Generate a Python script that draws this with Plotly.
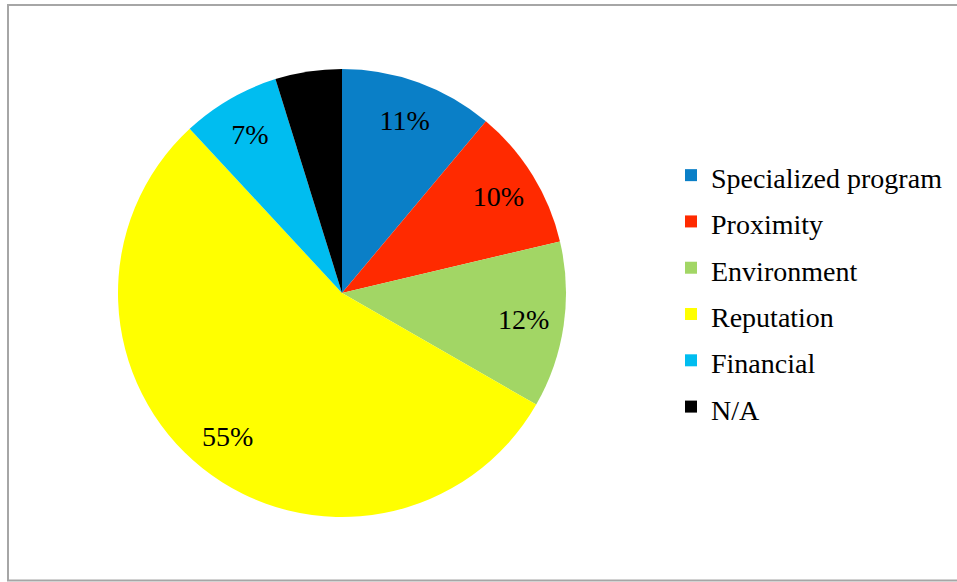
import plotly.graph_objects as go

categories = ["Specialized program", "Proximity", "Environment", "Reputation", "Financial", "N/A"]
shares = [11.1, 10.2, 12.0, 54.8, 7.1, 4.8]
colors = ["#0A7FC7", "#FF2A00", "#A2D665", "#FFFF00", "#00BDF0", "#000000"]
show_label = [True, True, True, True, True, False]

W, H = 957, 582
cx, cy, r = 342, 293, 224
dom = dict(x=[(cx - r) / W, (cx + r) / W], y=[(H - cy - r) / H, (H - cy + r) / H])

fig = go.Figure()
# coloured slices + legend
fig.add_trace(go.Pie(
    labels=[f'<span style="font-size:28px">{c}</span>' for c in categories],
    values=shares,
    sort=False,
    direction="clockwise",
    rotation=0,
    marker=dict(colors=colors, line=dict(width=0)),
    textinfo="none",
    hoverinfo="label+percent",
    domain=dom,
))
# transparent ring carrying the percentage labels (places them in the outer band)
fig.add_trace(go.Pie(
    labels=categories,
    values=shares,
    sort=False,
    direction="clockwise",
    rotation=0,
    hole=0.64,
    marker=dict(colors=["rgba(0,0,0,0)"] * len(categories), line=dict(width=0)),
    texttemplate=["%{percent:.0%}" if s else "" for s in show_label],
    textposition="inside",
    insidetextorientation="horizontal",
    textfont=dict(family="Liberation Serif", size=28, color="black"),
    hoverinfo="skip",
    showlegend=False,
    domain=dom,
))

fig.update_layout(
    width=W, height=H,
    margin=dict(l=0, r=0, t=0, b=0),
    paper_bgcolor="white",
    font=dict(family="Liberation Serif", color="black"),
    showlegend=True,
    legend=dict(
        x=671 / W, xanchor="left",
        y=1 - 147 / H, yanchor="top",
        font=dict(family="Liberation Serif", size=33.3, color="black"),
        bgcolor="rgba(0,0,0,0)",
        itemclick=False,
        itemdoubleclick=False,
    ),
    shapes=[dict(type="rect", xref="paper", yref="paper",
                 x0=8 / W, x1=1.02, y0=1.5 / H, y1=1 - 5 / H,
                 line=dict(color="#A6A6A6", width=2))],
)

fig.write_html("out.html", config={"displayModeBar": False},
               post_script="document.body.style.margin='0';")
